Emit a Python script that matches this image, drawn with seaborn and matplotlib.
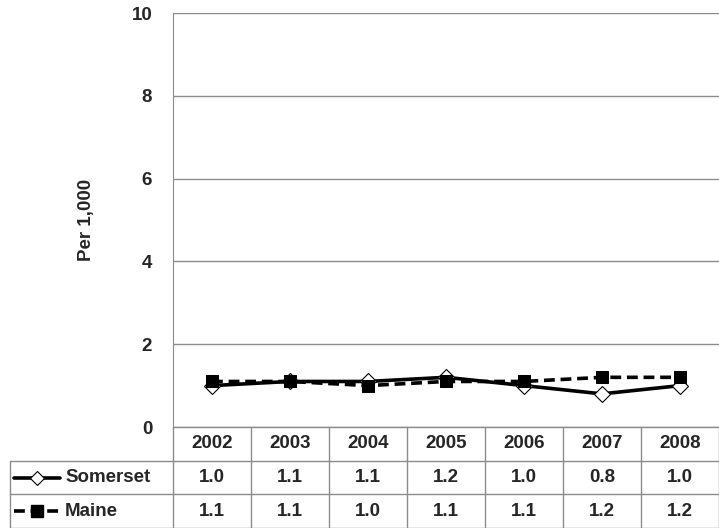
import matplotlib
matplotlib.use("Agg")
import matplotlib.pyplot as plt
import seaborn as sns
import pandas as pd
from matplotlib.lines import Line2D

# dados
anos = ["2002", "2003", "2004", "2005", "2006", "2007", "2008"]
somerset = [1.0, 1.1, 1.1, 1.2, 1.0, 0.8, 1.0]
maine = [1.1, 1.1, 1.0, 1.1, 1.1, 1.2, 1.2]
series = ["Somerset", "Maine"]
y_ticks = [0, 2, 4, 6, 8, 10]

sns.set_style("white")
plt.rcParams["font.family"] = ["Liberation Sans", "DejaVu Sans"]
plt.rcParams["font.weight"] = "bold"

W, H = 719, 528
fs = 13.5
fig = plt.figure(figsize=(W / 100, H / 100), dpi=100)

# area do grafico (em pixels)
x0, x1 = 173, 719
y_top, y_zero = 13, 427
ax = fig.add_axes([x0 / W, (H - y_zero) / H, (x1 - x0) / W, (y_zero - y_top) / H])

df = pd.DataFrame({"pos": list(range(len(anos))) * 2,
                   "valor": somerset + maine,
                   "serie": ["Somerset"] * len(anos) + ["Maine"] * len(anos)})

sns.lineplot(data=df[df.serie == "Somerset"], x="pos", y="valor", ax=ax,
             color="black", linewidth=2.6, marker="D", markersize=8,
             markerfacecolor="white", markeredgecolor="black", markeredgewidth=0.8)
sns.lineplot(data=df[df.serie == "Maine"], x="pos", y="valor", ax=ax,
             color="black", linewidth=2.6, linestyle=(0, (3, 1.6)), marker="s",
             markersize=9, markerfacecolor="black", markeredgecolor="black")

ax.set_xlim(-0.5, len(anos) - 0.5)
ax.set_ylim(0, 10)
ax.set_yticks(y_ticks)
ax.set_yticklabels([str(t) for t in y_ticks], fontsize=fs, fontweight="bold")
ax.set_xticks([])
ax.set_xlabel("")
ax.set_ylabel("Per 1,000", fontsize=fs, fontweight="bold", labelpad=26)
ax.yaxis.grid(True, color="#8c8c8c", linewidth=1)
ax.tick_params(axis="y", length=4, color="#8c8c8c", width=1, pad=11)
for s in ["top", "right", "bottom"]:
    ax.spines[s].set_visible(False)
ax.spines["left"].set_color("#8c8c8c")
ax.patch.set_alpha(0)

# tabela de dados
axt = fig.add_axes([0, 0, 1, 1])
axt.set_xlim(0, W)
axt.set_ylim(H, 0)
axt.axis("off")

gc = "#8c8c8c"
col_w = (x1 - x0) / len(anos)
left_tab = 10

axt.plot([x0, x1], [427, 427], color=gc, lw=1)
axt.plot([left_tab, x1], [461, 461], color=gc, lw=1)
axt.plot([left_tab, x1], [494, 494], color=gc, lw=1)
axt.plot([left_tab, x1], [527.5, 527.5], color=gc, lw=1)
axt.plot([left_tab, left_tab], [461, 528], color=gc, lw=1)
for i in range(len(anos) + 1):
    xx = x0 + i * col_w
    axt.plot([xx, xx], [427, 528], color=gc, lw=1)

for i, a in enumerate(anos):
    cx = x0 + (i + 0.5) * col_w
    axt.text(cx, 444, a, ha="center", va="center", fontsize=fs, fontweight="bold")
    axt.text(cx, 478, f"{somerset[i]:.1f}", ha="center", va="center", fontsize=fs, fontweight="bold")
    axt.text(cx, 511, f"{maine[i]:.1f}", ha="center", va="center", fontsize=fs, fontweight="bold")

# chaves da legenda
axt.add_line(Line2D([14, 60], [478, 478], color="black", lw=2.6))
axt.plot([37], [478], marker="D", markersize=7, markerfacecolor="white",
         markeredgecolor="black", markeredgewidth=0.8)
axt.text(65, 478, series[0], ha="left", va="center", fontsize=fs, fontweight="bold")
axt.add_line(Line2D([14, 60], [511, 511], color="black", lw=2.6, linestyle=(0, (3, 1.6))))
axt.plot([37], [511], marker="s", markersize=8, color="black")
axt.text(65, 511, series[1], ha="left", va="center", fontsize=fs, fontweight="bold")

fig.savefig("out.png", dpi=100)
